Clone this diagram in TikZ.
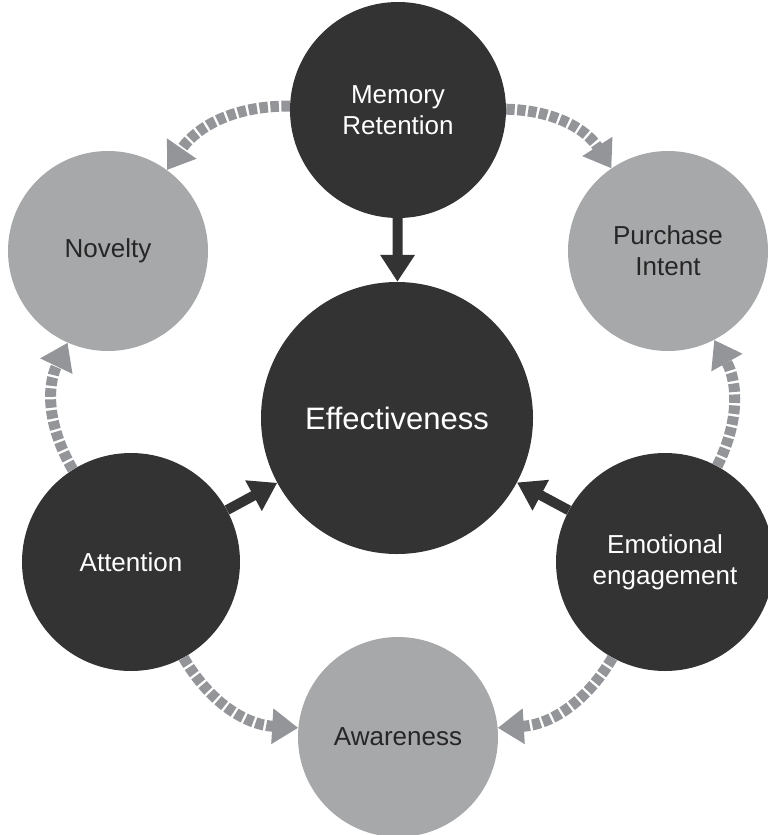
\documentclass[tikz,border=0pt]{standalone}
\usepackage{fontspec}
\setmainfont{Liberation Sans}
\usetikzlibrary{arrows.meta}
\definecolor{darkfill}{HTML}{333333}
\definecolor{lightfill}{HTML}{A7A8AA}
\definecolor{dashgray}{HTML}{949598}
\begin{document}
\begin{tikzpicture}[x=1pt,y=1pt,
  dark/.style={circle,fill=darkfill,text=white,inner sep=0,align=center,minimum size=#1,font=\fontsize{26}{31}\selectfont},
  light/.style={circle,fill=lightfill,text=black!85,inner sep=0,align=center,minimum size=#1,font=\fontsize{26}{31}\selectfont},
  solidarrow/.style={draw=darkfill,line width=10pt,-{Triangle[length=27pt,width=33pt]}},
  dasharrow/.style={draw=dashgray,line width=11pt,dash pattern=on 8.5pt off 2.5pt,-{Triangle[length=26pt,width=34pt]}}
]
  \useasboundingbox (0,0) rectangle (768,-835);
  \clip (0,0) rectangle (768,-835);

  \node (eff) at (397,-418) [dark=272pt,font=\fontsize{31}{36}\selectfont]{Effectiveness};
  \node (mem) at (398,-110) [dark=216pt]{Memory\\Retention};
  \node (nov) at (108,-251) [light=200pt]{Novelty};
  \node (pur) at (668,-251) [light=200pt]{Purchase\\Intent};
  \node (att) at (131,-562) [dark=218pt]{Attention};
  \node (emo) at (665,-562) [dark=218pt]{Emotional\\engagement};
  \node (awa) at (398,-737) [light=200pt]{Awareness};

  \draw[solidarrow] (mem) -- (eff);
  \draw[solidarrow] (att) -- (eff);
  \draw[solidarrow] (emo) -- (eff);

  \draw[dasharrow] (mem) to[bend right=28] (nov);
  \draw[dasharrow] (mem) to[bend left=28] (pur);
  \draw[dasharrow] (att) to[bend left=28] (nov);
  \draw[dasharrow] (emo) to[bend right=28] (pur);
  \draw[dasharrow] (att) to[bend right=28] (awa);
  \draw[dasharrow] (emo) to[bend left=28] (awa);

\end{tikzpicture}
\end{document}
